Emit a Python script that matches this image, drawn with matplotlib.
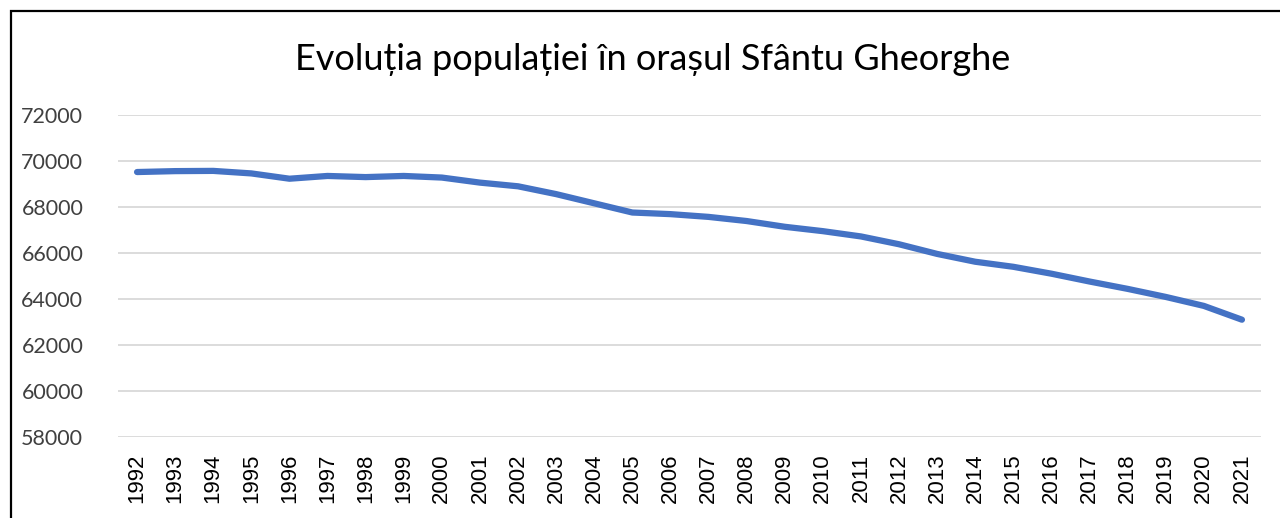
import matplotlib.pyplot as plt
from matplotlib.patches import Rectangle

# Populația orașului Sfântu Gheorghe, 1992-2021
years = [str(y) for y in range(1992, 2022)]
population = [69520, 69560, 69570, 69460, 69230, 69350, 69300, 69350, 69280, 69060,
              68900, 68560, 68160, 67760, 67690, 67570, 67390, 67140, 66950, 66720,
              66380, 65960, 65620, 65400, 65100, 64760, 64440, 64090, 63700, 63100]
y_ticks = list(range(58000, 72001, 2000))

fig = plt.figure(figsize=(12.8, 5.18), dpi=100)
ax = fig.add_axes([118 / 1280, 1 - 437 / 518, (1261 - 118) / 1280, (437 - 115) / 518])

x = range(len(years))
ax.plot(x, population, color='#4472C4', linewidth=4.5,
        solid_capstyle='round', solid_joinstyle='round', zorder=3)

ax.set_xlim(-0.5, len(years) - 0.5)
ax.set_ylim(58000, 72000)
ax.set_yticks(y_ticks)
ax.set_yticklabels([str(v) for v in y_ticks], fontfamily='Lato', fontsize=15.5, color='#404040')
ax.set_xticks(list(x))
ax.set_xticklabels(years, rotation=90, fontfamily='Liberation Sans', fontsize=16, color='black')
ax.tick_params(axis='both', length=0)
ax.tick_params(axis='y', pad=25)
ax.tick_params(axis='x', pad=12)

ax.grid(axis='y', color='#d9d9d9', linewidth=1.3)
ax.set_axisbelow(True)
for s in ax.spines.values():
    s.set_visible(False)

fig.text(0.51, 1 - 60 / 518, 'Evoluția populației în orașul Sfântu Gheorghe',
         ha='center', va='center', fontfamily='Lato', fontsize=26, color='black')

# chenarul negru al graficului
fig.patches.append(Rectangle((11 / 1280, -0.1), 1.2, 1 - 11 / 518 + 0.1,
                             transform=fig.transFigure, fill=False,
                             edgecolor='black', linewidth=1.6))

fig.savefig('out.png', dpi=100)
